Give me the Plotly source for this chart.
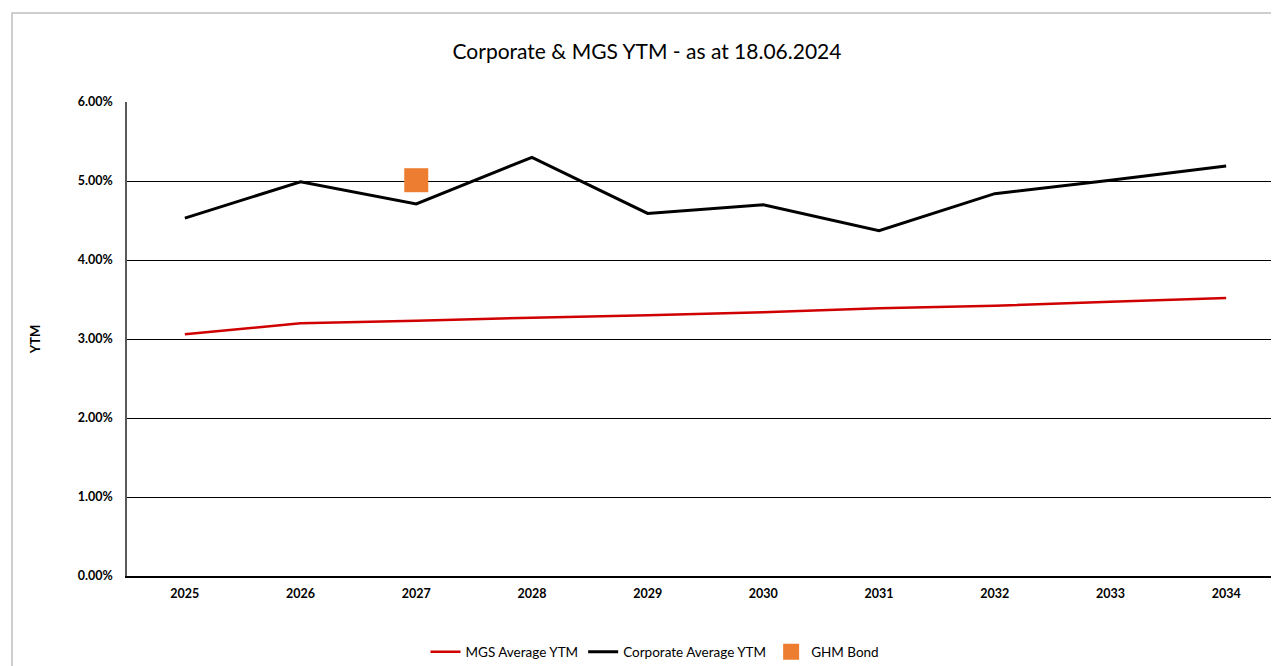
import plotly.graph_objects as go

years = ["2025", "2026", "2027", "2028", "2029", "2030", "2031", "2032", "2033", "2034"]
mgs_ytm = [3.06, 3.20, 3.23, 3.27, 3.30, 3.34, 3.39, 3.42, 3.47, 3.52]
corp_ytm = [4.53, 4.99, 4.71, 5.30, 4.59, 4.70, 4.37, 4.84, 5.01, 5.19]
ghm_year = ["2027"]
ghm_ytm = [5.01]
y_ticks = [0, 1, 2, 3, 4, 5, 6]
y_tick_labels = ["0.00%", "1.00%", "2.00%", "3.00%", "4.00%", "5.00%", "6.00%"]

FONT = "Lato, 'Open Sans', sans-serif"

fig = go.Figure()
fig.add_trace(go.Scatter(x=years, y=mgs_ytm, mode="lines", name="MGS Average YTM",
                         line=dict(color="#D00000", width=2.5)))
fig.add_trace(go.Scatter(x=years, y=corp_ytm, mode="lines", name="Corporate Average YTM",
                         line=dict(color="#000000", width=3)))
fig.add_trace(go.Scatter(x=ghm_year, y=ghm_ytm, mode="markers", name="GHM Bond",
                         marker=dict(symbol="square", size=24, color="#ED7D31")))

OFF = 8  # default page body margin
W, H = 1279 - OFF, 666 - OFF
ml, mr, mt = 127 - OFF, 0, 102 - OFF
mb = H - (576 - OFF)
pw = W - ml - mr
ph = H - mt - mb


def px2paper_x(px):
    return (px - OFF - ml) / pw


def px2paper_y(py):
    return (H - mb - (py - OFF)) / ph


fig.add_shape(type="rect", xref="paper", yref="paper",
              x0=px2paper_x(12), x1=px2paper_x(1320),
              y0=px2paper_y(720), y1=px2paper_y(13),
              line=dict(color="#BFBFBF", width=1.5), fillcolor="rgba(0,0,0,0)", layer="below")

fig.update_layout(
    width=W, height=H,
    margin=dict(l=ml, r=mr, t=mt, b=mb, autoexpand=False),
    paper_bgcolor="white", plot_bgcolor="white",
    font=dict(family=FONT, color="#000000"),
    title=dict(text="Corporate & MGS YTM - as at 18.06.2024", x=(647 - OFF) / W, xanchor="center",
               y=1 - (52 - OFF) / H, yanchor="middle",
               font=dict(size=21, family=FONT, color="#000000")),
    showlegend=True,
    legend=dict(orientation="h", x=px2paper_x(655), xanchor="center",
                y=px2paper_y(652), yanchor="middle",
                font=dict(size=13.5, family=FONT), itemwidth=30,
                bgcolor="rgba(0,0,0,0)"),
    xaxis=dict(type="category", range=[-0.5, 9.5 - 5 / 115.8],
               showgrid=False, showline=True, linecolor="#000000", linewidth=1.5,
               ticks="", tickfont=dict(size=12.5, family=FONT, color="#000000", weight="bold"),
               ticklabelstandoff=5, zeroline=False, fixedrange=True),
    yaxis=dict(range=[0, 6], tickvals=y_ticks, ticktext=y_tick_labels,
               showgrid=True, gridcolor="#000000", gridwidth=1,
               showline=True, linecolor="#595959", linewidth=1.5,
               ticks="", tickfont=dict(size=12.5, family=FONT, color="#000000", weight="bold"),
               ticklabelstandoff=10, zeroline=False,
               title=dict(text="YTM", font=dict(size=13, family=FONT, color="#000000", weight="bold"),
                          standoff=34)),
)

fig.write_html("out.html")
